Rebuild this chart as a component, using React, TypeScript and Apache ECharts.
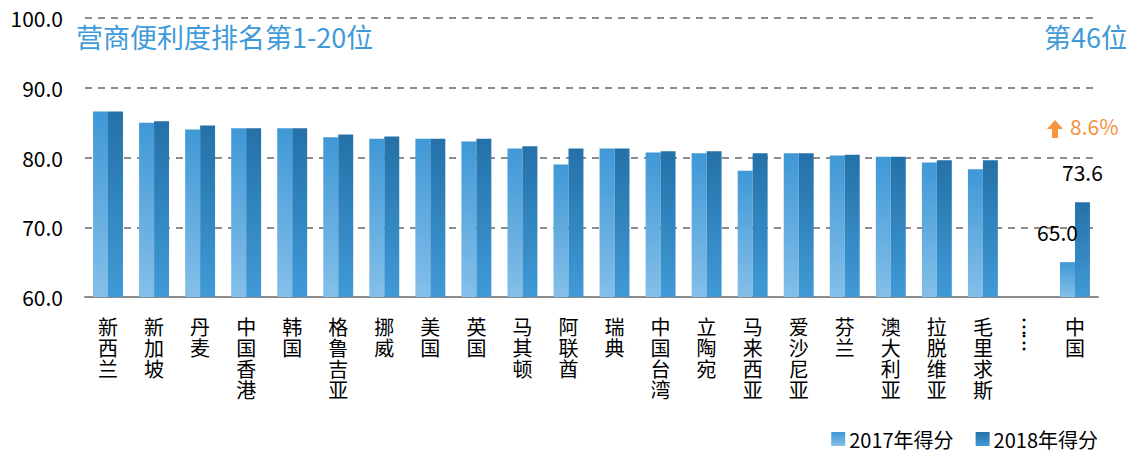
import React, { useEffect, useRef } from "react";
import * as echarts from "echarts";

const categories = [
  "新西兰", "新加坡", "丹麦", "中国香港", "韩国", "格鲁吉亚", "挪威", "美国", "英国", "马其顿",
  "阿联酋", "瑞典", "中国台湾", "立陶宛", "马来西亚", "爱沙尼亚", "芬兰", "澳大利亚", "拉脱维亚", "毛里求斯",
  "……", "中国",
];
const score2017: (number | null)[] = [
  86.6, 85.0, 84.0, 84.2, 84.2, 82.9, 82.7, 82.7, 82.3, 81.3,
  79.0, 81.3, 80.7, 80.6, 78.1, 80.6, 80.3, 80.1, 79.3, 78.3,
  null, 65.0,
];
const score2018: (number | null)[] = [
  86.6, 85.2, 84.6, 84.2, 84.2, 83.3, 83.0, 82.7, 82.7, 81.6,
  81.3, 81.3, 80.9, 80.9, 80.6, 80.6, 80.4, 80.1, 79.6, 79.6,
  null, 73.6,
];
const yTicks = [60, 70, 80, 90, 100];
const seriesNames = ["2017年得分", "2018年得分"];
const titleLeft = "营商便利度排名第1-20位";
const titleRight = "第46位";
const growthText = "8.6%";
const labeledCategory = "中国";

const FONT = "'Noto Sans CJK SC', 'Noto Sans', sans-serif";

export default function App() {
  const ref = useRef<HTMLDivElement>(null);
  useEffect(() => {
    if (!ref.current) return;
    const chart = echarts.init(ref.current, undefined, { renderer: "svg" });
    const grad2017 = new echarts.graphic.LinearGradient(0, 0, 0, 1, [
      { offset: 0, color: "#3f98d6" },
      { offset: 1, color: "#84bfe9" },
    ]);
    const grad2018 = new echarts.graphic.LinearGradient(0, 0, 0, 1, [
      { offset: 0, color: "#2471a8" },
      { offset: 1, color: "#409ad7" },
    ]);
    const labelIdx = categories.indexOf(labeledCategory);
    const mkLabel = (offsetX: number) => ({
      show: true,
      position: "top" as const,
      distance: 20,
      offset: [offsetX, 0],
      fontSize: 21,
      color: "#000",
      fontFamily: FONT,
      formatter: (p: any) => (p.dataIndex === labelIdx && p.value != null ? Number(p.value).toFixed(1) : ""),
    });
    chart.setOption({
      animation: false,
      textStyle: { fontFamily: FONT },
      grid: { left: 85, right: 36, top: 18, bottom: 161, containLabel: false },
      legend: {
        right: 31,
        bottom: 4,
        itemWidth: 14,
        itemHeight: 14,
        itemGap: 22,
        textStyle: { fontSize: 20, color: "#000", fontFamily: FONT, padding: [0, 0, 0, -1] },
        data: [
          { name: seriesNames[0], icon: "rect" },
          { name: seriesNames[1], icon: "rect" },
        ],
      },
      xAxis: {
        type: "category",
        data: categories,
        axisLine: { lineStyle: { color: "#8c8c8c", width: 2 } },
        axisTick: { show: false },
        axisLabel: {
          interval: 0,
          margin: 19,
          fontSize: 20,
          lineHeight: 21,
          color: "#000",
          fontFamily: FONT,
          verticalAlign: "top",
          formatter: (v: string) => (v === "……" ? "{d|⋮}\n{d|⋮}" : v.split("").join("\n")),
          rich: {
            d: { fontSize: 18, lineHeight: 16, fontWeight: "bold", color: "#000", padding: [0, 10, 0, 0] },
          },
        },
      },
      yAxis: {
        type: "value",
        min: 60,
        max: 100,
        interval: 10,
        axisLine: { show: false },
        axisTick: { show: false },
        axisLabel: {
          margin: 22,
          fontSize: 21,
          color: "#000",
          fontFamily: FONT,
          formatter: (v: number) => (yTicks.includes(v) ? v.toFixed(1) : ""),
        },
        splitLine: { lineStyle: { color: "#8c8c8c", width: 2, type: [7, 6] } },
      },
      series: [
        {
          name: seriesNames[0],
          type: "bar",
          data: score2017,
          barGap: "0%",
          barCategoryGap: "35%",
          itemStyle: { color: grad2017 },
          label: mkLabel(-10),
        },
        {
          name: seriesNames[1],
          type: "bar",
          data: score2018,
          barGap: "0%",
          barCategoryGap: "35%",
          itemStyle: { color: grad2018 },
          label: mkLabel(0),
        },
      ],
      graphic: [
        {
          type: "text",
          left: 76,
          top: 23,
          style: { text: titleLeft, fontSize: 27, fill: "#3e9ad8", fontFamily: FONT },
        },
        {
          type: "text",
          right: 6,
          top: 23,
          style: { text: titleRight, fontSize: 27, fill: "#3e9ad8", fontFamily: FONT },
        },
        {
          type: "polygon",
          shape: {
            points: [
              [1055, 120], [1063, 129], [1058, 129], [1058, 138],
              [1052, 138], [1052, 129], [1047, 129],
            ],
          },
          style: { fill: "#f7933f" },
        },
        {
          type: "text",
          left: 1070,
          top: 115,
          style: { text: growthText, fontSize: 21, fill: "#f7933f", fontFamily: FONT },
        },
      ],
    });
    return () => chart.dispose();
  }, []);
  return <div ref={ref} style={{ width: 1134, height: 458, margin: -8 }} />;
}
